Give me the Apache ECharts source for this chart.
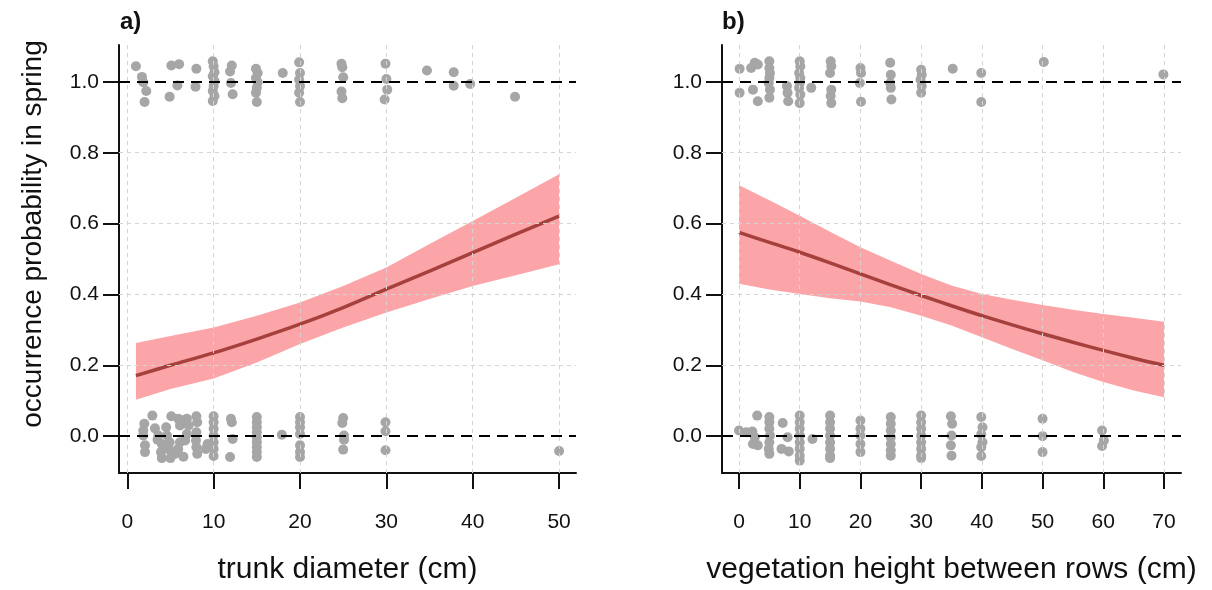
<!DOCTYPE html>
<html>
<head>
<meta charset="utf-8">
<script src="https://cdn.jsdelivr.net/npm/echarts@6/dist/echarts.min.js"></script>
<style>html,body{margin:0;padding:0;background:#fff}#c{width:1212px;height:590px}</style>
</head>
<body>
<div id="c"></div>
<script>
// ---------- data ----------
const yTicks = [0, 0.2, 0.4, 0.6, 0.8, 1.0];
const leftXTicks = [0, 10, 20, 30, 40, 50];
const rightXTicks = [0, 10, 20, 30, 40, 50, 60, 70];

const leftTitle = 'trunk diameter (cm)';
const rightTitle = 'vegetation height between rows (cm)';
const yTitle = 'occurrence probability in spring';

// observed presences (jittered around 1) — panel a
const leftTop = [
 [1.0,1.044],[1.7,1.014],[1.85,0.999],[2.2,0.974],[2.0,0.943],
 [5.1,1.046],[6.0,1.05],[5.8,0.99],[4.9,0.958],
 [8.0,1.037],[7.9,0.986],
 [9.9,1.058],[10.0,1.044],[10.1,1.027],[9.9,1.016],[10.1,1.002],[10.0,0.988],[9.9,0.974],[10.1,0.96],[9.9,0.946],
 [12.1,1.046],[11.9,1.029],[12.0,0.997],[12.2,0.965],
 [14.9,1.037],[15.1,1.025],[14.9,1.011],[15.1,0.999],[15.0,0.983],[14.9,0.969],[15.0,0.943],
 [18.0,1.025],
 [19.9,1.055],[20.0,1.025],[19.9,1.006],[20.0,0.988],[19.9,0.969],[20.0,0.943],
 [24.8,1.051],[24.9,1.041],[25.0,1.013],[24.8,0.973],[24.9,0.954],
 [29.9,1.051],[30.0,1.008],[30.1,0.978],[29.8,0.95],
 [34.7,1.032],[37.8,1.027],[37.8,0.989],[39.7,0.994],[44.9,0.958]
];
// observed absences (jittered around 0) — panel a
const leftBottom = [
 [2.9,0.058],[1.97,0.035],[1.85,0.016],[1.85,0.002],[2.05,-0.026],[2.05,-0.045],
 [3.2,0.022],[3.6,0.002],[4.0,-0.022],[3.9,-0.045],[4.0,-0.062],[4.3,-0.03],[3.5,-0.01],
 [5.1,0.056],[4.6,0.002],[4.9,-0.017],[5.0,-0.041],[5.0,-0.062],[5.5,-0.05],[4.5,0.025],
 [5.9,0.049],[6.1,0.03],[6.1,-0.017],[5.9,-0.036],[6.5,-0.058],[6.4,0.045],
 [6.9,0.049],[7.1,0.03],[6.9,0.006],[6.7,-0.012],
 [8.0,0.056],[8.1,0.039],[8.0,0.011],[7.95,-0.012],[8.0,-0.031],[8.1,-0.05],
 [9.1,-0.036],[9.3,-0.022],
 [10,0.056],[10,0.039],[10,0.021],[10,0.002],[10,-0.017],[10,-0.036],[10,-0.056],
 [12,0.049],[12.1,0.039],[12.2,-0.008],[11.9,-0.059],
 [15,0.054],[15,0.039],[15,0.025],[15,0.011],[15,-0.003],[15,-0.017],[15,-0.031],[15,-0.045],[15,-0.059],
 [17.9,0.004],
 [20,0.054],[20,0.039],[20,0.025],[20,0.006],[20,-0.026],[20,-0.045],[20,-0.059],
 [25,0.051],[24.9,0.037],[25.1,0.002],[25.1,-0.01],[25,-0.038],
 [29.9,0.039],[29.9,0.014],[29.9,-0.04],
 [50,-0.042]
];
// panel b
const rightTop = [
 [0.1,1.037],[0.1,0.969],[2.0,1.039],[2.6,1.054],[3.1,1.049],[2.3,0.978],[3.1,0.945],
 [5,1.058],[5,1.039],[5.1,1.025],[5,1.011],[4.9,0.997],[5.1,0.978],[5,0.955],
 [7.9,0.988],[8.0,0.969],[8.1,0.945],
 [10,1.058],[10.1,1.044],[9.9,1.025],[10.1,1.011],[10,0.997],[9.9,0.983],[10.1,0.964],[10,0.94],
 [11.9,0.983],
 [15.1,1.058],[15.2,1.044],[15.0,1.025],[15.2,0.978],[15.1,0.96],[15.2,0.94],
 [20.0,1.039],[20.1,1.025],[19.9,0.997],[20.1,0.944],
 [24.9,1.054],[25.0,1.02],[24.9,0.997],[25.0,0.983],[25.1,0.95],
 [30,1.034],[30.1,1.02],[29.9,1.006],[30.1,0.988],[30,0.969],
 [35.2,1.037],[39.9,1.025],[39.9,0.943],[50.2,1.056],[69.9,1.021]
];
const rightBottom = [
 [0,0.016],[3.0,0.058],[1.2,0.011],[2.2,0.013],[2.6,-0.003],[3.1,-0.026],[2.3,-0.022],
 [5,0.054],[5,0.039],[5,0.021],[5.1,0.002],[5,-0.017],[4.9,-0.036],[5,-0.05],
 [7.2,0.037],[8.0,-0.003],[7.0,-0.036],[8.2,-0.043],
 [10,0.058],[10,0.039],[10,0.021],[10,0.002],[10,-0.017],[10,-0.036],[10,-0.055],[10,-0.069],
 [12.1,-0.008],
 [15,0.058],[15,0.039],[15,0.021],[15,0.002],[15,-0.017],[15,-0.036],[15,-0.055],[15,-0.062],
 [20,0.044],[20,0.021],[20,0.002],[20,-0.022],[20,-0.045],
 [25,0.054],[25,0.035],[25,0.016],[25,-0.003],[25,-0.022],[25,-0.04],[25,-0.055],
 [30,0.058],[30,0.039],[30,0.021],[30,0.002],[30,-0.017],[30,-0.036],[30,-0.055],[30,-0.062],
 [34.9,0.056],[35.1,0.035],[35,0.002],[34.9,-0.026],[35,-0.055],
 [39.9,0.054],[40.1,0.025],[39.9,0.005],[40.1,-0.017],[39.9,-0.031],[39.9,-0.056],
 [50,0.049],[50,0],[50,-0.045],
 [59.8,0.016],[60.1,-0.012],[59.8,-0.028]
];

// fitted curves and confidence bands
const leftX   = [1, 5, 10, 15, 20, 25, 30, 35, 40, 45, 50];
const leftFit = [0.171,0.200,0.235,0.274,0.316,0.363,0.415,0.466,0.518,0.570,0.621];
const leftLo  = [0.103,0.133,0.163,0.208,0.260,0.307,0.349,0.387,0.424,0.454,0.485];
const leftHi  = [0.263,0.283,0.307,0.340,0.377,0.424,0.476,0.542,0.607,0.673,0.739];

const rightX   = [0, 5, 10, 15, 20, 25, 30, 35, 40, 45, 50, 55, 60, 65, 70];
const rightFit = [0.575,0.547,0.519,0.489,0.458,0.427,0.397,0.368,0.340,0.314,0.289,0.265,0.242,0.220,0.200];
const rightLo  = [0.430,0.414,0.401,0.389,0.380,0.364,0.340,0.312,0.279,0.246,0.214,0.181,0.153,0.129,0.110];
const rightHi  = [0.708,0.666,0.622,0.577,0.533,0.495,0.458,0.425,0.401,0.385,0.370,0.357,0.345,0.334,0.323];

// ---------- chart ----------
const FONT = '"Liberation Sans", Arial, Helvetica, sans-serif';
const INK = '#111';
const PT = '#a6a6a6';
const BAND = '#fba5a8';
const LINE = '#a6403d';
const GRIDC = '#d4d4d4';

const chart = echarts.init(document.getElementById('c'), null, {renderer: 'canvas'});

function xAxisDef(idx, min, max, ticks, name) {
  return {
    type: 'value', gridIndex: idx, min: min, max: max,
    name: name, nameLocation: 'middle', nameGap: 82,
    nameTextStyle: {fontFamily: FONT, fontSize: 30, color: INK},
    axisLine: {onZero: false, lineStyle: {color: INK, width: 2}},
    axisTick: {show: true, length: 16, lineStyle: {color: INK, width: 2}, customValues: ticks},
    axisLabel: {customValues: ticks, margin: 39, fontFamily: FONT, fontSize: 21, color: INK},
    splitLine: {show: false}
  };
}
function yAxisDef(idx) {
  return {
    type: 'value', gridIndex: idx, min: -0.104, max: 1.104,
    axisLine: {onZero: false, lineStyle: {color: INK, width: 2}},
    axisTick: {show: true, length: 16, lineStyle: {color: INK, width: 2}, customValues: yTicks},
    axisLabel: {customValues: yTicks, margin: 20, fontFamily: FONT, fontSize: 21, color: INK,
      formatter: v => v.toFixed(1)},
    splitLine: {show: false}
  };
}

function gridLines(ticks) {
  const arr = [];
  ticks.forEach(t => arr.push({xAxis: t}));
  yTicks.forEach(t => { if (t > 0 && t < 1) arr.push({yAxis: t}); });
  return arr;
}

function bandSeries(idx, xs, lo, hi) {
  const data = xs.map((x, i) => [x, lo[i], hi[i]]);
  return {
    type: 'custom', xAxisIndex: idx, yAxisIndex: idx, data: data, z: 2, silent: true,
    encode: {x: 0, y: [1, 2]},
    renderItem: function (params, api) {
      if (params.dataIndex !== 0) return null;
      const upper = data.map(d => api.coord([d[0], d[2]]));
      const lower = data.map(d => api.coord([d[0], d[1]])).reverse();
      return {
        type: 'polygon',
        shape: {points: upper.concat(lower), smooth: 0},
        style: {fill: BAND, stroke: null}
      };
    }
  };
}

function panelSeries(idx, xs, fit, lo, hi, top, bottom, ticks) {
  const fitData = xs.map((x, i) => [x, fit[i]]);
  return [
    { // light gridlines
      type: 'line', xAxisIndex: idx, yAxisIndex: idx, data: [], silent: true, z: 1,
      markLine: {silent: true, symbol: 'none', label: {show: false}, animation: false,
        lineStyle: {color: GRIDC, type: [4, 4], width: 1}, data: gridLines(ticks)}
    },
    bandSeries(idx, xs, lo, hi),
    {
      type: 'line', xAxisIndex: idx, yAxisIndex: idx, data: fitData, symbol: 'none',
      smooth: 0.3, lineStyle: {color: LINE, width: 3.5}, z: 3, animation: false
    },
    {
      type: 'scatter', xAxisIndex: idx, yAxisIndex: idx, data: top.concat(bottom),
      symbolSize: 10, itemStyle: {color: PT, opacity: 1}, z: 4, animation: false
    },
    { // reference dashed lines at 0 and 1
      type: 'line', xAxisIndex: idx, yAxisIndex: idx, data: [], silent: true, z: 5,
      markLine: {silent: true, symbol: 'none', label: {show: false}, animation: false,
        lineStyle: {color: '#000', type: [11, 7], width: 2},
        data: [{yAxis: 0}, {yAxis: 1}]}
    }
  ];
}

const option = {
  animation: false,
  backgroundColor: '#fff',
  grid: [
    {left: 119, top: 45, width: 457, height: 429},
    {left: 722, top: 45, width: 459, height: 429}
  ],
  xAxis: [
    xAxisDef(0, -0.96, 51.96, leftXTicks, leftTitle),
    xAxisDef(1, -2.8, 72.8, rightXTicks, rightTitle)
  ],
  yAxis: [yAxisDef(0), yAxisDef(1)],
  graphic: [
    {type: 'text', left: 120, top: 10, style: {text: 'a)', fontFamily: FONT, fontSize: 24, fontWeight: 'bold', fill: INK}},
    {type: 'text', left: 722, top: 10, style: {text: 'b)', fontFamily: FONT, fontSize: 24, fontWeight: 'bold', fill: INK}},
    {type: 'text', x: 33, y: 234, rotation: Math.PI / 2,
      style: {text: yTitle, fontFamily: FONT, fontSize: 28, fill: INK, align: 'center', verticalAlign: 'middle'}}
  ],
  series: [].concat(
    panelSeries(0, leftX, leftFit, leftLo, leftHi, leftTop, leftBottom, leftXTicks),
    panelSeries(1, rightX, rightFit, rightLo, rightHi, rightTop, rightBottom, rightXTicks)
  )
};
chart.setOption(option);
</script>
</body>
</html>
